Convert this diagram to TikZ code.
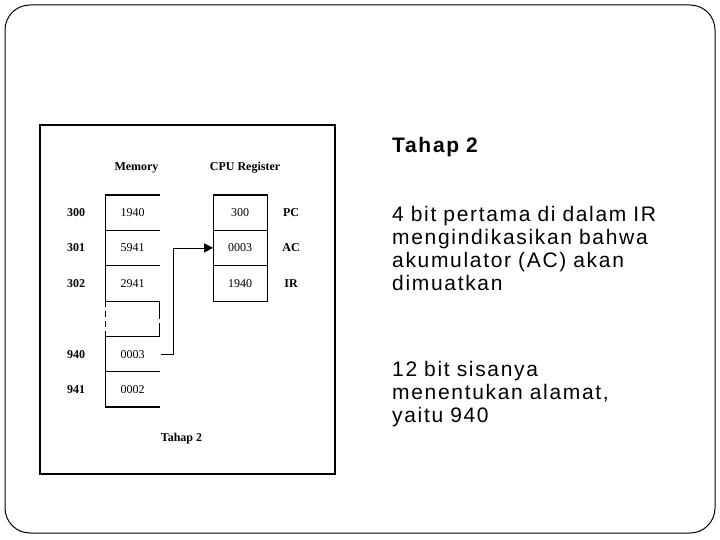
\documentclass[tikz,border=0pt]{standalone}
\usepackage{fontspec}
\usepackage{xcolor}
\usepackage{tikz}
\usetikzlibrary{arrows.meta, positioning, calc}
\newfontfamily\slidefont[LetterSpace=8]{Liberation Sans}
\newfontfamily\figfont{Liberation Serif}
\definecolor{mydark}{RGB}{0,0,0}
\tikzset{
  cell/.style={rectangle, minimum width=54pt, minimum height=35pt,
    inner sep=0pt, font=\figfont\fontsize{12}{14}\selectfont},
  addr/.style={font=\figfont\bfseries\fontsize{12}{14}\selectfont, inner sep=0pt},
  hdr/.style={font=\figfont\bfseries\fontsize{12}{14}\selectfont, inner sep=0pt, anchor=base},
  thin/.style={line width=0.8pt, color=mydark},
  thickline/.style={line width=2pt, color=mydark},
  arrow/.style={-{Triangle[length=9pt,width=9pt]}, line width=0.8pt, color=mydark},
  para/.style={font=\slidefont\fontsize{21}{23}\selectfont, anchor=base west,
    inner sep=0pt, text width=320pt, align=left}
}
\begin{document}
\begin{tikzpicture}[x=1pt, y=-1pt]
  \useasboundingbox (0,0) rectangle (720,540);

  % Frames
  \draw[line width=1pt, rounded corners=25pt] (5,5) rectangle (715,533);
  \draw[line width=1.3pt] (40,125) rectangle (335,474);

  % Memory nodes
  \node[hdr] (memhdr) at (136.5,170.5) {Memory};
  \node[cell] (m300) at (132.5,212.5) {1940};
  \node[cell, below=0pt of m300] (m301) {5941};
  \node[cell, below=0pt of m301] (m302) {2941};
  \node[cell, below=0pt of m302] (mgap) {};
  \node[cell, below=0pt of mgap] (m940) {0003};
  \node[cell, below=0pt of m940] (m941) {0002};
  \foreach \n in {300,301,302,940,941}
    \node[addr] (a\n) at (m\n.center -| 76,0) {\n};

  % CPU register nodes
  \node[hdr] (cpuhdr) at (245,170.5) {CPU Register};
  \node[cell, minimum width=53.4pt] (pc) at (240,212.5) {300};
  \node[cell, minimum width=53.4pt, below=0pt of pc] (ac) {0003};
  \node[cell, minimum width=53.4pt, below=0pt of ac] (ir) {1940};
  \node[addr] (lpc) at (pc.center -| 291,0) {PC};
  \node[addr] (lac) at (ac.center -| 291,0) {AC};
  \node[addr] (lir) at (ir.center -| 291,0) {IR};
  \node[hdr] (caption) at (181.5,441.5) {Tahap 2};

  % Memory lines
  \draw[thickline] (m300.north west) -- (m300.north east);
  \draw[thickline] (m941.south west) -- (m941.south east);
  \foreach \n in {m301,m302,mgap,m940,m941}
    \draw[thin] (\n.north west) -- (\n.north east);
  \draw[thin] (mgap.south west) -- (mgap.south east);
  \draw[line width=1.3pt] (m300.north west) -- (m302.south west);
  \draw[line width=1.3pt] (m940.north west) -- (m941.south west);
  \draw[line width=1.3pt, dash pattern=on 6pt off 4pt] (mgap.north west) -- (mgap.south west);
  \draw[thin, dash pattern=on 18pt off 4pt] (mgap.north east) -- (mgap.south east);

  % Register lines
  \draw[thin] (pc.north west) rectangle (ir.south east);
  \draw[thin] (ac.north west) -- (ac.north east);
  \draw[thin] (ir.north west) -- (ir.north east);
  \draw[thickline] (pc.north west) -- (pc.north east);

  % Paths
  \draw[arrow, shorten <=1.5pt] (m940.east) -- ++(14,0) |- (ac.west);

  % Slide text
  \node[para, font=\slidefont\bfseries\fontsize{21}{23}\selectfont] (title) at (392,153) {Tahap 2};
  \node[para] (p1) at (392,222) {4 bit pertama di dalam IR\\ mengindikasikan bahwa\\ akumulator (AC) akan\\ dimuatkan};
  \node[para] (p2) at (392,376.5) {12 bit sisanya\\ menentukan alamat,\\ yaitu 940};

\end{tikzpicture}
\end{document}
